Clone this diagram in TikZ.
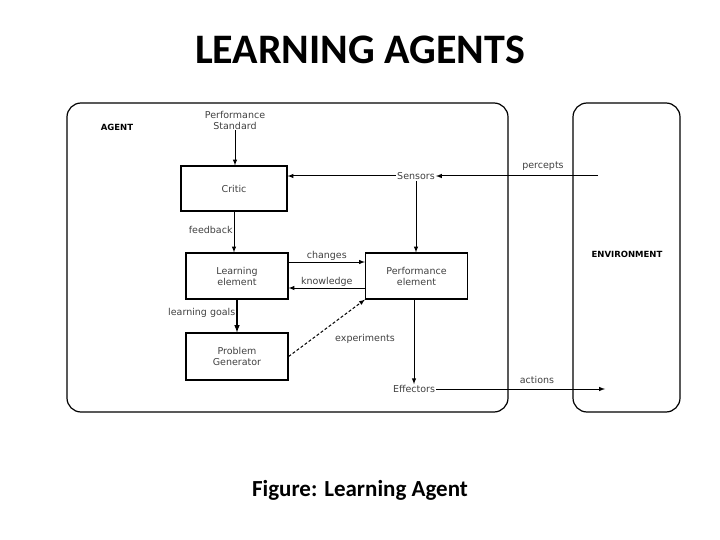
\documentclass[tikz,border=0pt]{standalone}
\usepackage{fontspec}
\setmainfont{DejaVu Sans}
\newfontfamily\calfont{Carlito}
\begin{document}
\begin{tikzpicture}[x=1pt,y=-1pt,
  blk/.style={draw,line width=1.2pt,minimum width=102pt,minimum height=46pt,align=center,font=\fontsize{9.5}{11}\selectfont,text=black!75},
  lbl/.style={font=\fontsize{9.5}{11}\selectfont,text=black!75,inner sep=1pt},
  arr/.style={-latex,line width=1pt}]
\useasboundingbox (0,0) rectangle (720,540);
\node[font=\calfont\bfseries\fontsize{42}{46}\selectfont] (title) at (360,50) {LEARNING AGENTS};
\node[font=\calfont\bfseries\fontsize{23}{26}\selectfont] (cap) at (360,490) {Figure: Learning Agent};
\draw[line width=1.2pt,rounded corners=14pt] (67,103) rectangle (508,412);
\draw[line width=1.2pt,rounded corners=14pt] (573,103) rectangle (680,412);
\node[font=\bfseries\fontsize{8.5}{10}\selectfont] (agent) at (117,127) {AGENT};
\node[font=\bfseries\fontsize{8.5}{10}\selectfont] (env) at (627,254) {ENVIRONMENT};
\node[blk,minimum width=106pt,minimum height=45pt] (critic) at (234,188.5) {Critic};
\node[blk] (learn) at (237,276) {Learning\\element};
\node[blk] (perf) at (416.5,276) {Performance\\element};
\node[blk,minimum height=47pt] (prob) at (237,356.5) {Problem\\Generator};
\node[lbl,align=center] (ps) at (235,120) {Performance\\Standard};
\node[lbl] (sens) at (416,176) {Sensors};
\node[lbl] (eff) at (414,389) {Effectors};
\coordinate (pin) at (598,176);
\coordinate (aout) at (605,389);
\draw[arr] (ps) -- (ps|-critic.north);
\draw[arr] (pin) -- (sens);
\node[lbl] at (543,166) {percepts};
\draw[arr] (sens.west) -- (sens.west-|critic.east);
\draw[arr] (sens) -- (sens|-perf.north);
\draw[arr] (critic) -- node[lbl,left,pos=0.45] {feedback} (critic|-learn.north);
\draw[arr] ([yshift=14pt]learn.east) -- node[lbl,above] {changes} ([yshift=14pt]perf.west);
\draw[arr] ([yshift=-12pt]perf.west) -- node[lbl,above] {knowledge} ([yshift=-12pt]learn.east);
\draw[arr,line width=1.5pt] (learn) -- node[lbl,left,pos=0.4] {learning goals} (learn|-prob.north);
\draw[arr,densely dashed] (prob.east) -- (perf.south west);
\node[lbl] at (365,339) {experiments};
\draw[arr] (perf.south-|eff) -- (eff);
\draw[arr] (eff) -- (aout);
\node[lbl] at (537,380) {actions};
\end{tikzpicture}
\end{document}
